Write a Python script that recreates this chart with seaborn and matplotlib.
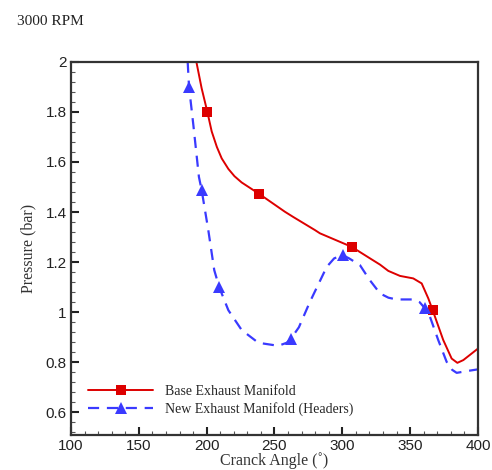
import numpy as np
import pandas as pd
import matplotlib
matplotlib.use('Agg')
import matplotlib.pyplot as plt
from matplotlib.ticker import MultipleLocator
import seaborn as sns

# Base manifold curve (crank angle, pressure), markers at selected points
base_angle = [192.4, 196.3, 200.5, 203.7, 207.5, 211.1, 216.0, 220.5, 225.8, 238.8, 257.7,
              263.9, 279.8, 283.5, 306.9, 320.4, 327.8, 333.9, 342.5, 352.3, 358.5,
              363.4, 366.6, 374.4, 380.6, 384.8, 389.2, 400.0]
base_press = [2.00, 1.894, 1.80, 1.722, 1.66, 1.614, 1.572, 1.543, 1.518, 1.472, 1.401,
              1.38, 1.328, 1.315, 1.261, 1.215, 1.19, 1.165, 1.145, 1.135, 1.115,
              1.055, 1.008, 0.889, 0.815, 0.798, 0.809, 0.855]
base_marks = [2, 9, 14, 22]

# New manifold (headers)
new_angle = [186.0, 187.0, 190.2, 194.3, 196.3, 201.2, 205.6, 209.3, 216.0, 225.8,
             238.1, 252.8, 259.0, 262.2, 268.0, 276.0, 288.5, 294.0, 300.2, 305.0,
             313.0, 320.0, 327.8, 334.0, 340.0, 352.3, 357.0, 361.0, 364.6, 370.7,
             376.9, 381.0, 384.3, 391.7, 400.0]
new_press = [2.00, 1.90, 1.747, 1.54, 1.488, 1.328, 1.168, 1.099, 1.008, 0.929,
             0.878, 0.866, 0.878, 0.895, 0.94, 1.04, 1.181, 1.215, 1.228, 1.215,
             1.188, 1.13, 1.075, 1.058, 1.051, 1.051, 1.04, 1.015, 0.982, 0.889,
             0.802, 0.77, 0.758, 0.765, 0.772]
new_marks = [1, 4, 7, 13, 18, 27]

sns.set_style('ticks')
plt.rcParams['font.family'] = ['Liberation Sans', 'DejaVu Sans']
serif = ['Liberation Serif', 'DejaVu Serif']

fig = plt.figure(figsize=(4.92, 4.70), dpi=100)
ax = fig.add_axes([0.1443, 0.0745, 0.8272, 0.7942])

sns.lineplot(x=base_angle, y=base_press, sort=False, estimator=None, ax=ax,
             color='#dd0000', linewidth=1.4, marker='s', markersize=7,
             markevery=base_marks, markeredgewidth=0, label='Base Exhaust Manifold')
sns.lineplot(x=new_angle, y=new_press, sort=False, estimator=None, ax=ax,
             color='#3a3aff', linewidth=1.6, linestyle=(0, (5, 3.5)), marker='^',
             markersize=8, markevery=new_marks, markeredgewidth=0,
             label='New Exhaust Manifold (Headers)')

ax.set_xlim(100, 400)
ax.set_ylim(0.51, 2.0)
ax.xaxis.set_major_locator(MultipleLocator(50))
ax.xaxis.set_minor_locator(MultipleLocator(10))
ax.yaxis.set_major_locator(MultipleLocator(0.2))
ax.yaxis.set_minor_locator(MultipleLocator(0.04))
ax.yaxis.set_major_formatter(plt.FuncFormatter(lambda v, p: f'{v:g}'))
ax.tick_params(which='major', direction='in', length=6, width=1.5, labelsize=11,
               colors='#222222', pad=3)
ax.tick_params(which='minor', direction='in', length=3, width=0.8, colors='#555555')
for s in ax.spines.values():
    s.set_linewidth(1.6)
    s.set_color('#333333')

ax.set_xlabel('Cranck Angle (˚)', family=serif, fontsize=11.5, color='#333333', labelpad=-1)
ax.set_ylabel('Pressure (bar)', family=serif, fontsize=11.5, color='#333333', labelpad=7)
fig.text(0.035, 0.955, '3000 RPM', family=serif, fontsize=11, color='#222222',
         va='center', ha='left')

ax.legend(loc='upper left', bbox_to_anchor=(0.042, 0.135), frameon=False,
          borderpad=0, borderaxespad=0, handlelength=4.7, handletextpad=0.85,
          labelspacing=0.3, prop={'family': serif, 'size': 10})

fig.savefig('out.png', dpi=100)
